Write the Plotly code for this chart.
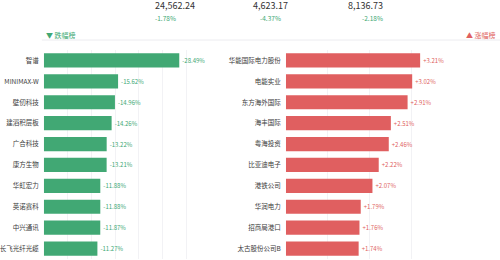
import plotly.graph_objects as go

index_values = ["24,562.24", "4,623.17", "8,136.73"]
index_changes = ["-1.78%", "-4.37%", "-2.18%"]

losers = ["智谱", "MINIMAX-W", "壁仞科技", "建滔积层板", "广合科技", "康方生物",
          "华虹宏力", "英诺赛科", "中兴通讯", "长飞光纤光缆"]
loser_pct = [-28.49, -15.62, -14.96, -14.26, -13.22, -13.21, -11.88, -11.88, -11.87, -11.27]

gainers = ["华能国际电力股份", "电能实业", "东方海外国际", "海丰国际", "粤海投资",
           "比亚迪电子", "港铁公司", "华润电力", "招商局港口", "太古股份公司B"]
gainer_pct = [3.21, 3.02, 2.91, 2.51, 2.46, 2.22, 2.07, 1.79, 1.76, 1.74]

GREEN = "#41a874"
RED = "#e05f60"
FONT = "Noto Sans CJK SC"

fig = go.Figure()
fig.add_trace(go.Bar(
    y=losers, x=[abs(v) for v in loser_pct], orientation="h",
    marker=dict(color=GREEN, line=dict(width=0)), width=0.68,
    text=[f"{v:.2f}%" for v in loser_pct], textposition="outside",
    textfont=dict(color=GREEN, size=6, family=FONT), cliponaxis=False,
    xaxis="x", yaxis="y", hoverinfo="skip"))
fig.add_trace(go.Bar(
    y=gainers, x=gainer_pct, orientation="h",
    marker=dict(color=RED, line=dict(width=0)), width=0.68,
    text=[f"+{v:.2f}%" for v in gainer_pct], textposition="outside",
    textfont=dict(color=RED, size=6, family=FONT), cliponaxis=False,
    xaxis="x2", yaxis="y2", hoverinfo="skip"))

y_dom = [1 - 259 / 260, 1 - 50 / 260]
fig.update_layout(
    width=500, height=260, margin=dict(l=0, r=0, t=0, b=0),
    paper_bgcolor="white", plot_bgcolor="white", showlegend=False,
    font=dict(family=FONT, size=7, color="#333"),
    xaxis=dict(domain=[42 / 500, 210 / 500], range=[0, 35.2], dtick=5,
               showgrid=True, gridcolor="#f2f2f5", gridwidth=1,
               showticklabels=False, zeroline=False, showline=False),
    yaxis=dict(domain=y_dom, autorange="reversed", ticks="", ticklabelstandoff=4,
               tickfont=dict(size=6.5, color="#3a3a3a"), showgrid=False),
    xaxis2=dict(domain=[285 / 500, 453 / 500], range=[0, 4.0], dtick=1,
                showgrid=True, gridcolor="#f2f2f5", gridwidth=1,
                showticklabels=False, zeroline=False, showline=False, anchor="y2"),
    yaxis2=dict(domain=y_dom, autorange="reversed", ticks="", anchor="x2",
                ticklabelstandoff=4,
                tickfont=dict(size=6.5, color="#3a3a3a"), showgrid=False),
    bargap=0.3,
)

xs = [152, 270, 385]
for x, v, c in zip(xs, index_values, index_changes):
    fig.add_annotation(x=x / 500, y=1 - 5 / 260, xref="paper", yref="paper",
                       yanchor="middle", text=v, showarrow=False,
                       font=dict(size=9, color="#333"))
    fig.add_annotation(x=x / 500, y=1 - 18 / 260, xref="paper", yref="paper",
                       yanchor="middle", text=c, showarrow=False,
                       font=dict(size=6.5, color=GREEN))

fig.add_annotation(x=42 / 500, y=1 - 35 / 260, xref="paper", yref="paper",
                   xanchor="left", yanchor="middle", text="▼ 跌幅榜", showarrow=False,
                   font=dict(size=7, color=GREEN))
fig.add_annotation(x=498 / 500, y=1 - 35 / 260, xref="paper", yref="paper",
                   xanchor="right", yanchor="middle", text="▲ 涨幅榜", showarrow=False,
                   font=dict(size=7, color=RED))
fig.add_shape(type="line", xref="paper", yref="paper",
              x0=40 / 500, x1=1, y0=1 - 40 / 260, y1=1 - 40 / 260,
              line=dict(color="#ececf0", width=1))

fig.write_html("out.html")
